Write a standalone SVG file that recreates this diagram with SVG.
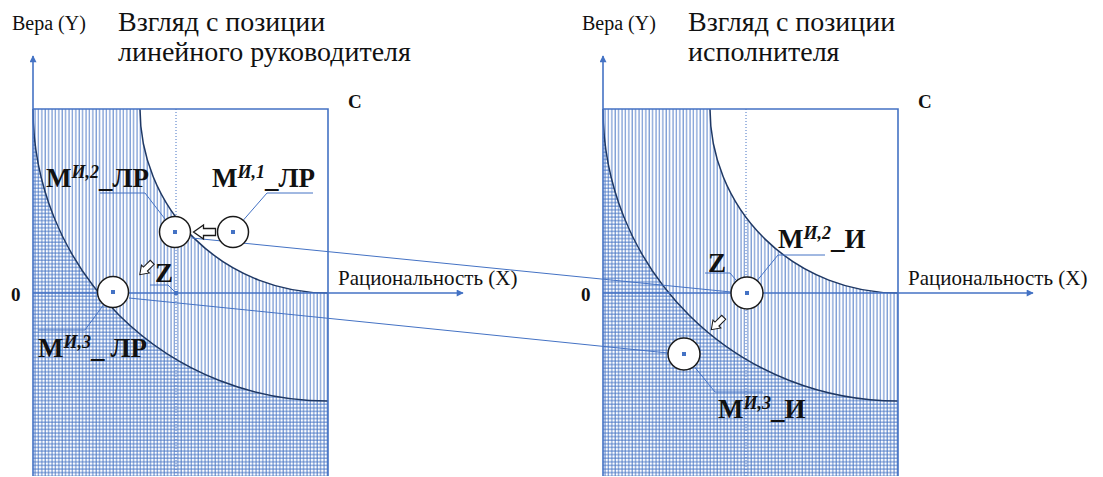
<svg xmlns="http://www.w3.org/2000/svg" xmlns:xlink="http://www.w3.org/1999/xlink" width="1103" height="477" viewBox="0 0 1103 477">
<style>
  .txt { font-family: "Liberation Serif", "Times New Roman", serif; fill: #111; }
  .lbl { font-family: "Liberation Serif", "Times New Roman", serif; font-weight: bold; font-size: 27px; fill: #111; }
  .sup { font-size: 18px; font-style: italic; }
  .axis { stroke: #4472C4; stroke-width: 1.6; fill: none; }
  .curve { stroke: #1F3864; stroke-width: 1.5; fill: none; }
  .dotted { stroke: #4472C4; stroke-width: 1; stroke-dasharray: 1 2; fill: none; }
  .thin { stroke: #4472C4; stroke-width: 1; fill: none; }
  .circ { stroke: #1a1a1a; stroke-width: 1.5; fill: #fff; }
  .dot { fill: #4472C4; }
  .harrow { fill: #fff; stroke: #1a1a1a; stroke-width: 1.3; }
</style>
<defs>
  <pattern id="vhatch" patternUnits="userSpaceOnUse" x="0" y="0" width="3.4" height="10">
    <line x1="1" y1="0" x2="1" y2="10" stroke="#4472C4" stroke-width="1" stroke-opacity="0.9"/>
  </pattern>
  <pattern id="hhatch" patternUnits="userSpaceOnUse" x="0" y="0" width="10" height="3.6">
    <line x1="0" y1="1" x2="10" y2="1" stroke="#4472C4" stroke-width="1" stroke-opacity="0.9"/>
  </pattern>
  <marker id="ah" viewBox="0 0 10 10" refX="9" refY="5" markerUnits="userSpaceOnUse" markerWidth="9" markerHeight="7" orient="auto">
    <path d="M0,0 L10,5 L0,10 z" fill="#4472C4"/>
  </marker>
  <path id="blk" d="M-11,0 L-1,-7 L-1,-3.5 L11,-3.5 L11,3.5 L-1,3.5 L-1,7 Z"/>
  <g id="panel">
    <rect x="33" y="109" width="295" height="367" fill="url(#vhatch)"/>
    <path d="M33,109 A295,292 0 0 0 328,401 L328,476 L33,476 Z" fill="url(#hhatch)"/>
    <path d="M140,109 A188,184 0 0 0 328,293 L328,109 Z" fill="#fff"/>
    <line class="dotted" x1="176" y1="109" x2="176" y2="476"/>
    <path class="curve" d="M33,109 A295,292 0 0 0 328,401"/>
    <path class="curve" d="M140,109 A188,184 0 0 0 328,293"/>
    <polyline class="axis" points="33,109 328,109 328,476"/>
    <line class="axis" x1="33" y1="476" x2="33" y2="56" marker-end="url(#ah)"/>
    <line class="axis" x1="33" y1="293" x2="463" y2="293" marker-end="url(#ah)"/>
  </g>
</defs>

<g id="panel-left">
  <use xlink:href="#panel"/>
  <text class="txt" x="12" y="30" font-size="20">Вера (Y)</text>
  <text class="txt" x="118" y="31" font-size="28">Взгляд с позиции</text>
  <text class="txt" x="118" y="61" font-size="28">линейного руководителя</text>
  <text class="txt" x="348" y="108" font-size="19" font-weight="bold">C</text>
  <text class="txt" x="11" y="301" font-size="19" font-weight="bold">0</text>
  <text class="txt" x="338" y="285" font-size="21">Рациональность (X)</text>
</g>

<g id="panel-right">
  <use xlink:href="#panel" transform="translate(570,0)"/>
  <text class="txt" x="582" y="30" font-size="20">Вера (Y)</text>
  <text class="txt" x="688" y="31" font-size="28">Взгляд с позиции</text>
  <text class="txt" x="688" y="61" font-size="28">исполнителя</text>
  <text class="txt" x="918" y="108" font-size="19" font-weight="bold">C</text>
  <text class="txt" x="581" y="301" font-size="19" font-weight="bold">0</text>
  <text class="txt" x="908" y="285" font-size="21">Рациональность (X)</text>
</g>

<g id="connectors">
  <line class="thin" x1="192" y1="238" x2="731" y2="292"/>
  <line class="thin" x1="129" y1="298" x2="668" y2="353"/>
  <polyline class="thin" points="100,193 145,193 175,232"/>
  <polyline class="thin" points="313,193 267,193 233,232"/>
  <polyline class="thin" points="38,330 85,330 113,292"/>
  <polyline class="thin" points="150,285 168,285 176,293"/>
  <polyline class="thin" points="705,273 730,273 747,293"/>
  <polyline class="thin" points="825,255 778,255 747,293"/>
  <polyline class="thin" points="763,392 715,392 684,354"/>
  <use xlink:href="#blk" class="harrow" transform="translate(204.5,232)"/>
  <use xlink:href="#blk" class="harrow" transform="translate(146,268.5) rotate(-45) scale(0.8)"/>
  <use xlink:href="#blk" class="harrow" transform="translate(717.5,323.5) rotate(-45) scale(0.8)"/>
</g>

<g id="node-m2-lr">
  <circle class="circ" cx="175" cy="232" r="15.5"/>
  <rect class="dot" x="173" y="230" width="4" height="4"/>
  <text class="lbl" x="46" y="187">М<tspan class="sup" dy="-9">И,2</tspan><tspan dy="9">_ЛР</tspan></text>
</g>
<g id="node-m1-lr">
  <circle class="circ" cx="233" cy="232" r="15.5"/>
  <rect class="dot" x="231" y="230" width="4" height="4"/>
  <text class="lbl" x="212" y="187">М<tspan class="sup" dy="-9">И,1</tspan><tspan dy="9">_ЛР</tspan></text>
</g>
<g id="node-m3-lr">
  <circle class="circ" cx="113" cy="292" r="15.5"/>
  <rect class="dot" x="111" y="290" width="4" height="4"/>
  <text class="lbl" x="38" y="357">М<tspan class="sup" dy="-9">И,3</tspan><tspan dy="9">_</tspan><tspan dx="6">ЛР</tspan></text>
</g>
<g id="node-z-lr">
  <rect class="dot" x="174" y="291" width="4" height="4"/>
  <text class="lbl" x="155" y="282" font-size="18">Z</text>
</g>
<g id="node-z-i">
  <circle class="circ" cx="747" cy="293" r="16"/>
  <rect class="dot" x="745" y="291" width="4" height="4"/>
  <text class="lbl" x="708" y="272" font-size="18">Z</text>
</g>
<g id="node-m2-i">
  <text class="lbl" x="778" y="248">М<tspan class="sup" dy="-9">И,2</tspan><tspan dy="9">_И</tspan></text>
</g>
<g id="node-m3-i">
  <circle class="circ" cx="684" cy="354" r="16"/>
  <rect class="dot" x="682" y="352" width="4" height="4"/>
  <text class="lbl" x="718" y="418">М<tspan class="sup" dy="-9">И,3</tspan><tspan dy="9">_И</tspan></text>
</g>
</svg>
